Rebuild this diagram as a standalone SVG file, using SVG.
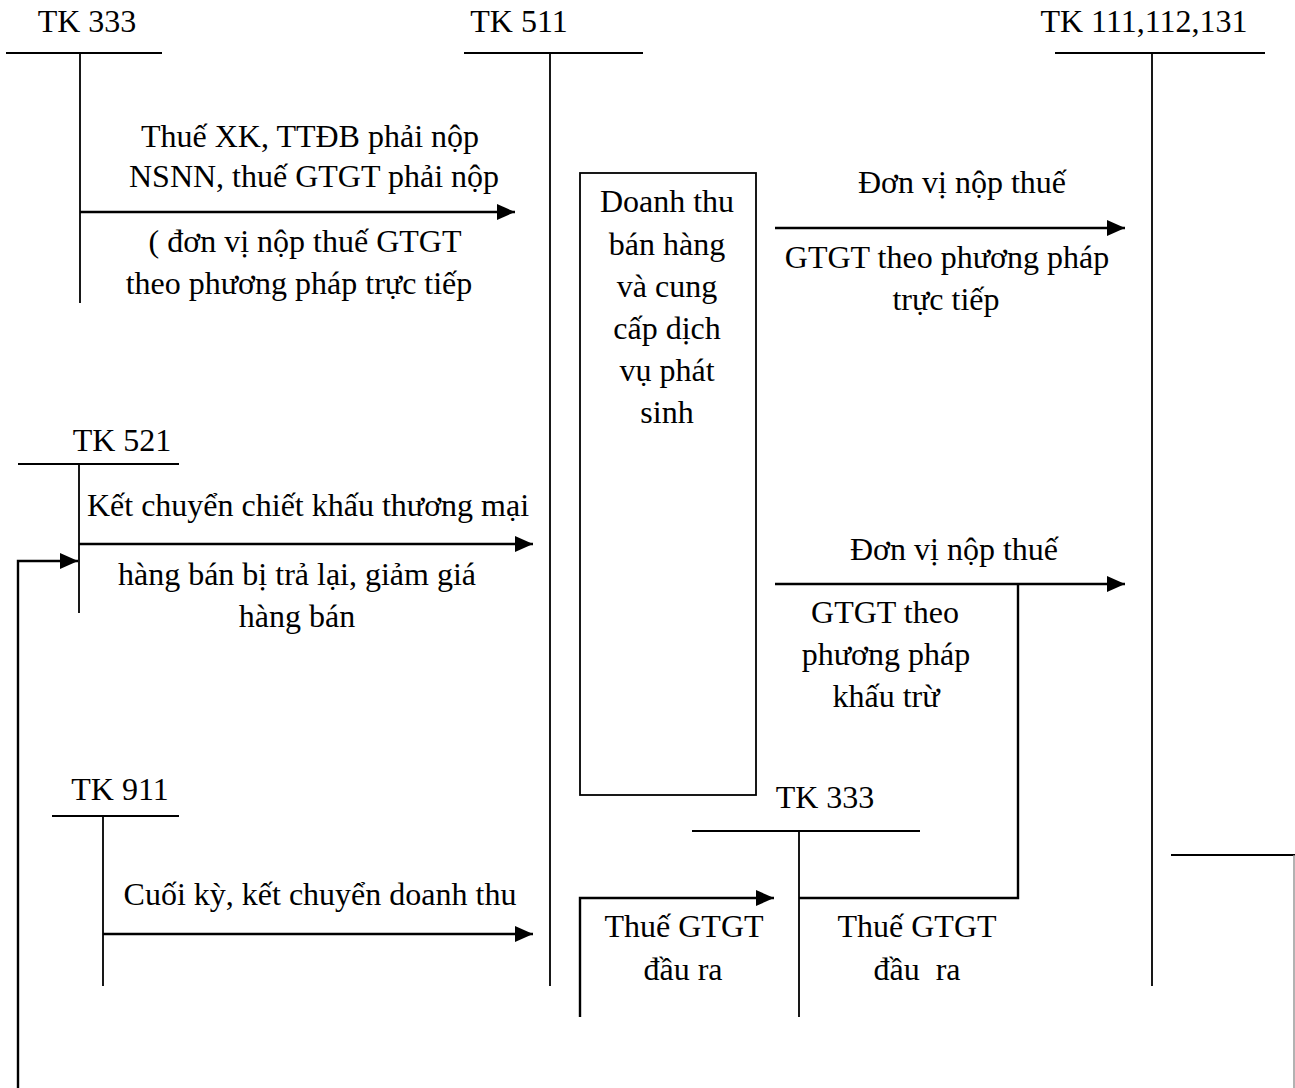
<svg xmlns="http://www.w3.org/2000/svg" width="1295" height="1088" viewBox="0 0 1295 1088">
<defs>
<style>
text{font-family:"Liberation Serif","Times New Roman",serif;font-size:32px;fill:#000;text-anchor:middle}
.t{stroke:#000;stroke-width:1.8;fill:none}
.c{stroke:#000;stroke-width:2.4;fill:none}
.a{marker-end:url(#ah)}
</style>
<marker id="ah" markerUnits="userSpaceOnUse" markerWidth="18" markerHeight="16" refX="18" refY="8" orient="auto">
<path d="M0,0 L18,8 L0,16 z" fill="#000"/>
</marker>
</defs>
<rect width="1295" height="1088" fill="#fff"/>

<g id="tk333-top">
<text x="87" y="32">TK 333</text>
<path class="t" d="M6,53 H162 M80,53 V303"/>
</g>
<g id="tk511">
<text x="519" y="32">TK 511</text>
<path class="t" d="M464,53 H643 M550,53 V986"/>
</g>
<g id="tk111">
<text x="1144" y="32">TK 111,112,131</text>
<path class="t" d="M1055,53 H1265 M1152,53 V986"/>
</g>
<g id="box-doanhthu">
<rect class="t" x="580" y="173" width="176" height="622"/>
<text x="667" y="212">Doanh thu</text>
<text x="667" y="255">bán hàng</text>
<text x="667" y="297">và cung</text>
<text x="667" y="339">cấp dịch</text>
<text x="667" y="381">vụ phát</text>
<text x="667" y="423">sinh</text>
</g>
<g id="tk521">
<text x="122" y="451">TK 521</text>
<path class="t" d="M18,464 H179 M79,464 V613"/>
</g>
<g id="tk911">
<text x="120" y="800">TK 911</text>
<path class="t" d="M52,816 H179 M103,816 V986"/>
</g>
<g id="tk333-bottom">
<text x="825" y="808">TK 333</text>
<path class="t" d="M692,831 H920 M799,831 V1017"/>
</g>
<g id="tk-right">
<path class="t" d="M1171,855 H1295"/>
<path d="M1294,855 V1088" stroke="#999" stroke-width="1.5" fill="none"/>
</g>

<g id="connectors">
<path class="c a" d="M80,212 H515"/>
<path class="c a" d="M775,228 H1125"/>
<path class="c a" d="M79,544 H533"/>
<path class="c a" d="M18,1088 V561 H78"/>
<path class="c a" d="M775,584 H1125"/>
<path class="c" d="M1018,584 V898 H799"/>
<path class="c a" d="M103,934 H533"/>
<path class="c a" d="M580,1017 V898 H774"/>
</g>

<g id="labels">
<text x="310" y="147">Thuế XK, TTĐB phải nộp</text>
<text x="314" y="187">NSNN, thuế GTGT phải nộp</text>
<text x="305" y="252">( đơn vị nộp thuế GTGT</text>
<text x="299" y="294">theo phương pháp trực tiếp</text>
<text x="962" y="193">Đơn vị nộp thuế</text>
<text x="947" y="268">GTGT theo phương pháp</text>
<text x="946" y="310">trực tiếp</text>
<text x="308" y="516">Kết chuyển chiết khấu thương mại</text>
<text x="297" y="585">hàng bán bị trả lại, giảm giá</text>
<text x="297" y="627">hàng bán</text>
<text x="954" y="560">Đơn vị nộp thuế</text>
<text x="885" y="623">GTGT theo</text>
<text x="886" y="665">phương pháp</text>
<text x="886" y="707">khấu trừ</text>
<text x="320" y="905">Cuối kỳ, kết chuyển doanh thu</text>
<text x="684" y="937">Thuế GTGT</text>
<text x="683" y="980">đầu ra</text>
<text x="917" y="937">Thuế GTGT</text>
<text x="917" y="980" xml:space="preserve">đầu  ra</text>
</g>
</svg>
